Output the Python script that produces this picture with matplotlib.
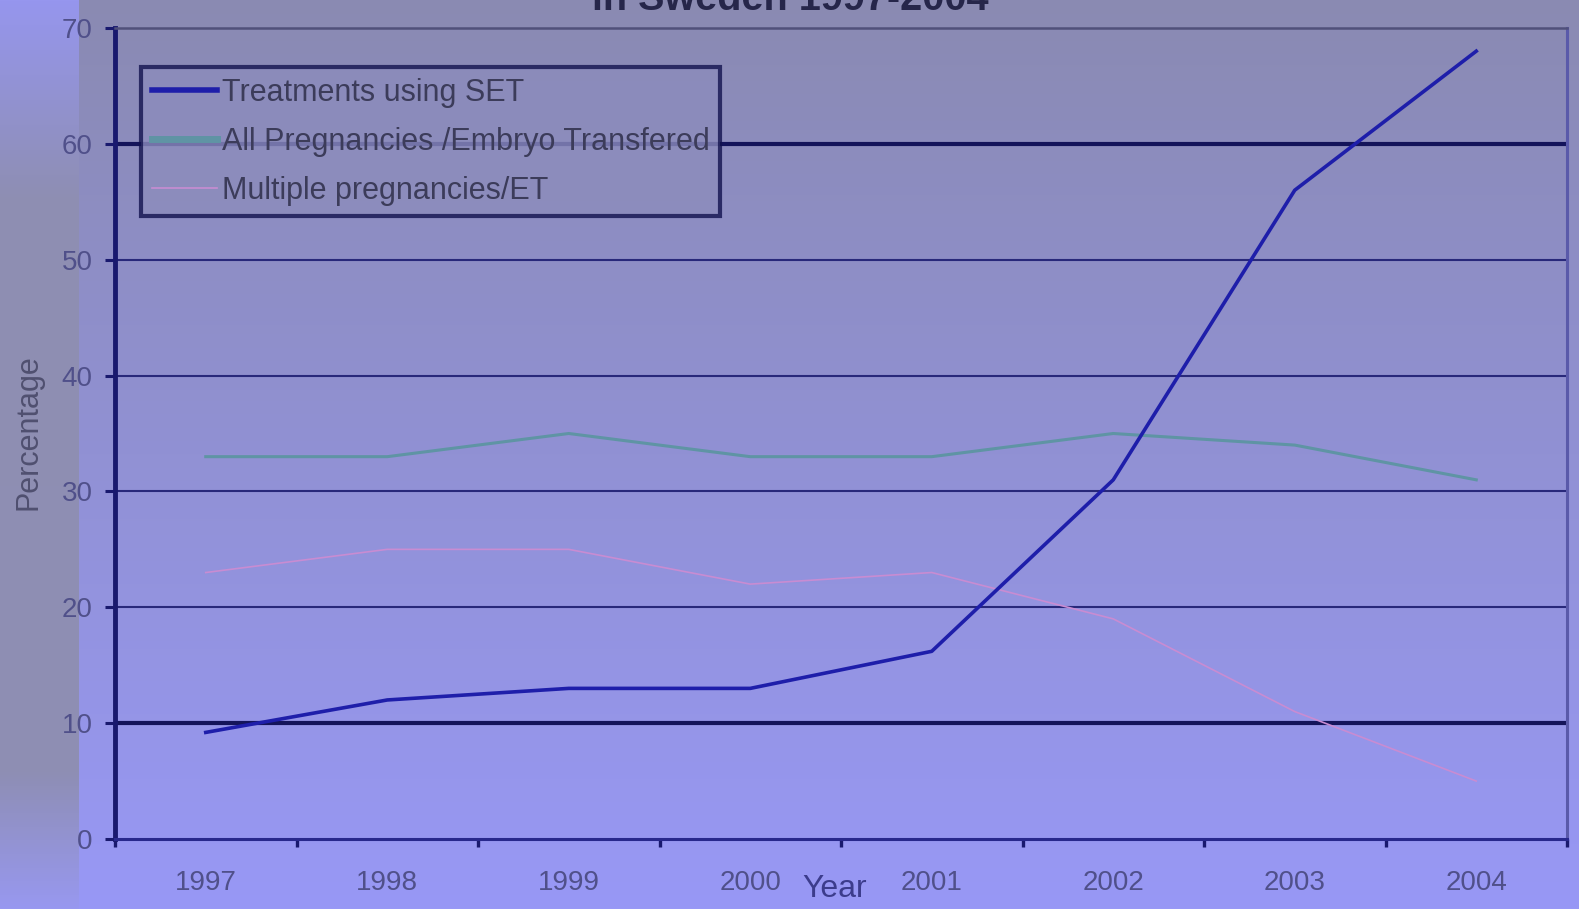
import numpy as np
import matplotlib
matplotlib.use("Agg")
import matplotlib.pyplot as plt

plt.rcParams["font.family"] = ["Liberation Sans", "DejaVu Sans"]

# chart data
years = ["1997", "1998", "1999", "2000", "2001", "2002", "2003", "2004"]
set_treatments = [9.2, 12.0, 13.0, 13.0, 16.2, 31.0, 56.0, 68.0]
all_pregnancies = [33.0, 33.0, 35.0, 33.0, 33.0, 35.0, 34.0, 31.0]
multiple_pregnancies = [23.0, 25.0, 25.0, 22.0, 23.0, 19.0, 11.0, 5.0]

W, H, DPI = 1579, 909, 100
fig = plt.figure(figsize=(W / DPI, H / DPI), dpi=DPI)

# background: vertical gradient, with a darker strip on the far left
rows = np.linspace(0, 1, H)
top = np.array([138, 138, 178]) / 255
bot = np.array([152, 152, 246]) / 255
main = top[None, :] * (1 - rows[:, None]) + bot[None, :] * rows[:, None]
strip_pts = [0.0, 0.22, 0.85, 1.0]
strip = np.stack([np.interp(rows, strip_pts, [150, 142, 142, 152]),
                  np.interp(rows, strip_pts, [150, 142, 142, 152]),
                  np.interp(rows, strip_pts, [238, 178, 180, 240])], axis=1) / 255
bg = np.repeat(main[:, None, :], W, axis=1)
bg[:, :79, :] = strip[:, None, :]
bga = fig.add_axes([0, 0, 1, 1], zorder=-10)
bga.imshow(bg, aspect="auto", extent=[0, 1, 0, 1], origin="upper")
bga.axis("off")

ax = fig.add_axes([115 / W, 1 - 839 / H, (1567 - 115) / W, (839 - 28) / H])
ax.set_facecolor("none")

x = np.arange(len(years)) + 0.5
ax.plot(x, set_treatments, color="#1e1eaa", lw=2.6, label="Treatments using SET",
        solid_joinstyle="round", zorder=5)
ax.plot(x, all_pregnancies, color="#5f94a4", lw=2.2, label="All Pregnancies /Embryo Transfered",
        zorder=4)
ax.plot(x, multiple_pregnancies, color="#c88cd2", lw=1.2, label="Multiple pregnancies/ET",
        zorder=4)

ax.set_xlim(0, len(years))
ax.set_ylim(0, 70)

# horizontal gridlines, 10 and 60 drawn heavier
for y in range(10, 70, 10):
    if y in (10, 60):
        ax.axhline(y, color="#14145a", lw=3.0, zorder=2)
    else:
        ax.axhline(y, color="#28287a", lw=1.5, zorder=2)

ax.spines["left"].set_color("#19196e")
ax.spines["left"].set_linewidth(3.5)
ax.spines["bottom"].set_color("#28288c")
ax.spines["bottom"].set_linewidth(2.2)
ax.spines["right"].set_color("#5a5aaa")
ax.spines["right"].set_linewidth(2.2)
ax.spines["top"].set_color("#50507a")
ax.spines["top"].set_linewidth(1.8)

ax.set_yticks(range(0, 71, 10))
ax.tick_params(axis="y", direction="out", length=7, width=2.2, color="#19196e",
               labelsize=20, labelcolor="#50508a", pad=9)
ax.set_xticks(range(0, len(years) + 1))
ax.set_xticklabels([])
ax.set_xticks(x, minor=True)
ax.set_xticklabels(years, minor=True)
ax.tick_params(axis="x", which="major", direction="out", length=6, width=2.4, color="#19196e")
ax.tick_params(axis="x", which="minor", length=0, labelsize=20, labelcolor="#50508a", pad=22)

leg = ax.legend(loc="upper left", bbox_to_anchor=(141 / W, 1 - 67 / H),
                bbox_transform=fig.transFigure, fontsize=22, frameon=True,
                fancybox=False, handlelength=2.15, handletextpad=0.15,
                labelspacing=0.62, borderpad=0.35, borderaxespad=0)
leg.get_frame().set_facecolor("#8c8cbc")
leg.get_frame().set_edgecolor("#12124e")
leg.get_frame().set_linewidth(3.0)
leg.set_zorder(10)
for t in leg.get_texts():
    t.set_color("#3c3c5a")
for h, lw in zip(leg.get_lines(), [4.0, 5.0, 1.2]):
    h.set_linewidth(lw)

fig.text(790 / W, 1 - 10 / H, "in Sweden 1997-2004", fontsize=28.5, fontweight="bold",
         color="#26264a", ha="center", va="baseline")
fig.text(28 / W, 1 - 432 / H, "Percentage", fontsize=22, rotation=90,
         color="#505070", ha="center", va="center")
fig.text(835 / W, 1 - 889 / H, "Year", fontsize=23, color="#3c3c8c",
         ha="center", va="center")

fig.savefig("out.png", dpi=DPI)
